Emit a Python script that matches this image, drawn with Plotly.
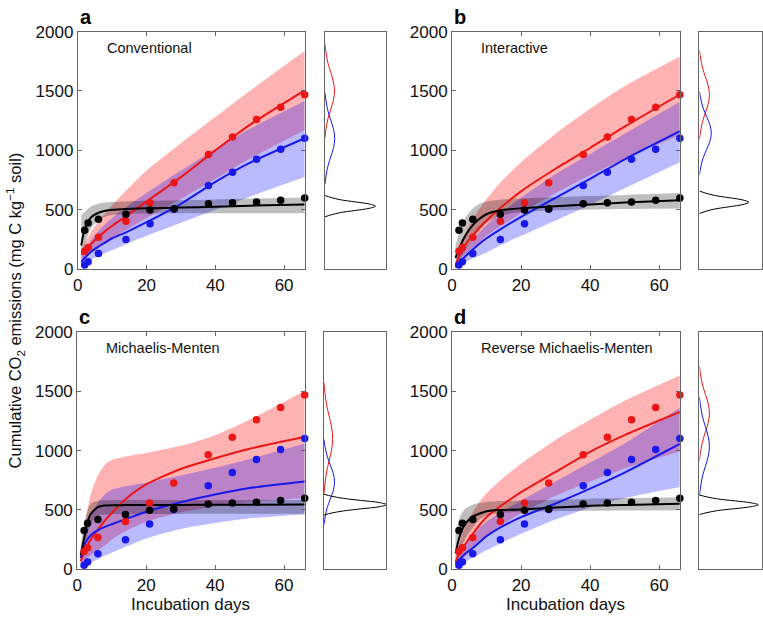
import plotly.graph_objects as go

W, H = 763, 623

# ---------------- observations (same in all panels) ----------------
obs_days = [2, 3, 6, 14, 21, 28, 38, 45, 52, 59, 66]
obs_black = [327, 389, 419, 463, 498, 509, 550, 558, 566, 580, 599]
obs_red = [150, 182, 269, 403, 558, 727, 966, 1113, 1260, 1363, 1469]
obs_blue = [35, 63, 131, 250, 381, 505, 705, 816, 925, 1010, 1102]

# ---------------- model fits (mean, lower, upper) ----------------
model_days = [1, 2, 3, 4, 6, 8, 10, 14, 20, 30, 40, 50, 66]

# a: Conventional
a_black_mid = [200, 340, 400, 440, 475, 492, 500, 507, 512, 518, 526, 534, 544]
a_black_lo = [100, 200, 290, 350, 410, 440, 455, 465, 468, 470, 470, 470, 470]
a_black_hi = [450, 480, 510, 530, 550, 560, 565, 570, 575, 580, 587, 594, 604]
a_red_mid = [120, 150, 185, 215, 270, 320, 365, 445, 570, 775, 1000, 1215, 1505]
a_red_lo = [50, 80, 110, 135, 180, 220, 260, 330, 430, 590, 760, 930, 1170]
a_red_hi = [160, 220, 270, 320, 400, 470, 540, 660, 830, 1060, 1280, 1500, 1837]
a_blue_mid = [60, 95, 125, 150, 190, 225, 260, 310, 395, 550, 735, 895, 1102]
a_blue_lo = [30, 50, 65, 80, 110, 135, 160, 210, 280, 390, 500, 610, 775]
a_blue_hi = [100, 160, 210, 250, 320, 380, 430, 520, 640, 830, 1010, 1180, 1415]

# b: Interactive
b_black_mid = [95, 170, 235, 290, 370, 425, 462, 495, 512, 530, 545, 560, 580]
b_black_lo = [20, 70, 120, 170, 250, 330, 390, 450, 480, 495, 502, 507, 510]
b_black_hi = [200, 300, 380, 440, 510, 550, 570, 585, 595, 605, 615, 625, 640]
b_red_mid = [30, 110, 165, 210, 285, 350, 410, 515, 655, 845, 1020, 1200, 1470]
b_red_lo = [10, 60, 100, 130, 180, 230, 280, 360, 470, 640, 790, 930, 1130]
b_red_hi = [50, 170, 250, 310, 420, 510, 590, 730, 900, 1140, 1350, 1540, 1790]
b_blue_mid = [15, 50, 82, 112, 165, 215, 260, 335, 440, 600, 760, 925, 1162]
b_blue_lo = [5, 25, 45, 60, 90, 115, 140, 200, 280, 410, 540, 680, 900]
b_blue_hi = [30, 90, 140, 180, 250, 310, 370, 470, 600, 800, 970, 1140, 1410]

# c: Michaelis-Menten
c_black_mid = [120, 260, 400, 470, 525, 537, 540, 541, 542, 543, 544, 545, 547]
c_black_lo = [60, 160, 300, 390, 450, 462, 465, 466, 467, 467, 468, 468, 468]
c_black_hi = [200, 380, 500, 555, 578, 582, 583, 584, 584, 585, 585, 585, 585]
c_red_mid = [70, 140, 205, 255, 335, 410, 475, 590, 715, 845, 935, 1015, 1116]
c_red_lo = [40, 70, 100, 120, 160, 200, 250, 320, 400, 480, 530, 565, 600]
c_red_hi = [150, 330, 500, 640, 790, 880, 920, 950, 980, 1040, 1130, 1260, 1505]
c_blue_mid = [95, 200, 255, 290, 330, 358, 380, 422, 485, 565, 630, 685, 740]
c_blue_lo = [10, 25, 40, 55, 85, 115, 140, 190, 260, 340, 390, 430, 463]
c_blue_hi = [120, 260, 380, 450, 560, 630, 670, 700, 730, 790, 855, 930, 1060]

# d: Reverse Michaelis-Menten
d_black_mid = [136, 258, 340, 390, 445, 470, 490, 500, 505, 520, 535, 543, 552]
d_black_lo = [60, 130, 200, 270, 350, 420, 455, 475, 485, 490, 493, 496, 498]
d_black_hi = [300, 420, 480, 515, 545, 560, 568, 575, 580, 587, 595, 600, 607]
d_red_mid = [60, 125, 177, 220, 300, 375, 440, 531, 650, 820, 990, 1130, 1325]
d_red_lo = [20, 55, 90, 115, 170, 230, 290, 370, 470, 620, 740, 850, 993]
d_red_hi = [100, 210, 300, 370, 480, 570, 640, 750, 890, 1090, 1260, 1420, 1633]
d_blue_mid = [46, 80, 109, 135, 180, 230, 280, 354, 440, 555, 680, 815, 1056]
d_blue_lo = [10, 30, 50, 65, 100, 130, 160, 220, 300, 420, 520, 600, 694]
d_blue_hi = [60, 110, 160, 210, 290, 350, 400, 480, 580, 740, 900, 1060, 1360]

# ---------------- side densities (y level, relative density) ----------------
a_red_dy = [1105, 1184, 1263, 1342, 1421, 1500, 1579, 1658, 1737, 1816, 1895]
a_red_dx = [0, .020, .048, .094, .137, .156, .137, .094, .048, .020, 0]
a_blue_dy = [715, 792, 869, 946, 1023, 1100, 1177, 1254, 1331, 1408, 1485]
a_blue_dx = [0, .021, .050, .096, .141, .160, .141, .096, .050, .021, 0]
a_black_dy = [440, 458, 476, 494, 512, 530, 548, 566, 584, 602, 620]
a_black_dx = [0, .107, .254, .492, .722, .820, .722, .492, .254, .107, 0]

b_red_dy = [1093, 1168, 1243, 1318, 1393, 1468, 1543, 1618, 1693, 1768, 1843]
b_red_dx = [0, .021, .050, .096, .141, .160, .141, .096, .050, .021, 0]
b_blue_dy = [796, 866, 936, 1006, 1076, 1146, 1216, 1286, 1356, 1426, 1496]
b_blue_dx = [0, .025, .059, .114, .167, .190, .167, .114, .059, .025, 0]
b_black_dy = [468, 487, 506, 525, 544, 563, 582, 601, 620, 639, 658]
b_black_dx = [0, .103, .245, .474, .695, .790, .695, .474, .245, .103, 0]

c_red_dy = [633, 727, 821, 915, 1009, 1103, 1197, 1291, 1385, 1479, 1573]
c_red_dx = [0, .018, .043, .084, .123, .140, .123, .084, .043, .018, 0]
c_blue_dy = [376, 448, 520, 592, 664, 736, 808, 880, 952, 1024, 1096]
c_blue_dx = [0, .022, .053, .102, .150, .170, .150, .102, .053, .022, 0]
c_black_dy = [457, 475, 492, 510, 527, 545, 563, 580, 598, 615, 633]
c_black_dx = [0, .130, .310, .600, .880, 1.0, .880, .600, .310, .130, 0]

d_red_dy = [920, 999, 1078, 1157, 1236, 1315, 1394, 1473, 1552, 1631, 1710]
d_red_dx = [0, .021, .050, .096, .141, .160, .141, .096, .050, .021, 0]
d_blue_dy = [620, 703, 786, 869, 952, 1035, 1118, 1201, 1284, 1367, 1450]
d_blue_dx = [0, .021, .050, .096, .141, .160, .141, .096, .050, .021, 0]
d_black_dy = [462, 478, 495, 511, 528, 544, 560, 577, 593, 610, 626]
d_black_dx = [0, .122, .291, .564, .827, .940, .827, .564, .291, .122, 0]

panel_letters = ["a", "b", "c", "d"]
panel_names = ["Conventional", "Interactive", "Michaelis-Menten", "Reverse Michaelis-Menten"]
x_ticks = [0, 20, 40, 60]
y_ticks = [0, 500, 1000, 1500, 2000]

# ---------------- styling ----------------
FONT = "Arial, Liberation Sans, Helvetica, sans-serif"
RED = "rgb(235,22,22)"
BLUE = "rgb(25,25,235)"
BLACK = "rgb(0,0,0)"
RED_F = "rgba(255,0,0,0.30)"
BLUE_F = "rgba(0,0,255,0.27)"
GRAY_F = "rgba(0,0,0,0.25)"
AXC = "#666666"
TXT = "#111111"

panels = [
    dict(black=(a_black_mid, a_black_lo, a_black_hi), red=(a_red_mid, a_red_lo, a_red_hi),
         blue=(a_blue_mid, a_blue_lo, a_blue_hi),
         dens=[(a_red_dx, a_red_dy, RED), (a_blue_dx, a_blue_dy, BLUE), (a_black_dx, a_black_dy, BLACK)]),
    dict(black=(b_black_mid, b_black_lo, b_black_hi), red=(b_red_mid, b_red_lo, b_red_hi),
         blue=(b_blue_mid, b_blue_lo, b_blue_hi),
         dens=[(b_red_dx, b_red_dy, RED), (b_blue_dx, b_blue_dy, BLUE), (b_black_dx, b_black_dy, BLACK)]),
    dict(black=(c_black_mid, c_black_lo, c_black_hi), red=(c_red_mid, c_red_lo, c_red_hi),
         blue=(c_blue_mid, c_blue_lo, c_blue_hi),
         dens=[(c_red_dx, c_red_dy, RED), (c_blue_dx, c_blue_dy, BLUE), (c_black_dx, c_black_dy, BLACK)]),
    dict(black=(d_black_mid, d_black_lo, d_black_hi), red=(d_red_mid, d_red_lo, d_red_hi),
         blue=(d_blue_mid, d_blue_lo, d_blue_hi),
         dens=[(d_red_dx, d_red_dy, RED), (d_blue_dx, d_blue_dy, BLUE), (d_black_dx, d_black_dy, BLACK)]),
]

# pixel geometry (left, right) for main and side boxes, (top, bottom) per row
main_x = [(73.3, 301.7), (450.0, 679.3), (72.7, 301.7), (450.0, 679.3)]
side_x = [(322.0, 384.0), (699.0, 762.0), (321.0, 384.0), (699.0, 762.0)]
row_y = [(23.3, 268.3), (23.3, 268.3), (333.0, 578.0), (333.0, 578.0)]


def px(x):
    return x / W


def py(y):
    return 1 - y / H


fig = go.Figure()
layout = dict(
    width=W, height=H, margin=dict(l=0, r=0, t=0, b=0),
    paper_bgcolor="white", plot_bgcolor="white", showlegend=False,
    font=dict(family=FONT, size=17, color=TXT),
)
annotations = []

for i, p in enumerate(panels):
    mi = 2 * i + 1
    si = 2 * i + 2
    mx = "x" if mi == 1 else f"x{mi}"
    my = "y" if mi == 1 else f"y{mi}"
    sx, sy = f"x{si}", f"y{si}"

    # bands
    for key, fcol in (("red", RED_F), ("blue", BLUE_F), ("black", GRAY_F)):
        mid, lo, hi = p[key]
        fig.add_trace(go.Scatter(x=model_days, y=lo, mode="lines",
                                 line=dict(width=0, shape="spline", smoothing=0.7),
                                 xaxis=mx, yaxis=my, hoverinfo="skip"))
        fig.add_trace(go.Scatter(x=model_days, y=hi, mode="lines",
                                 line=dict(width=0, shape="spline", smoothing=0.7),
                                 fill="tonexty", fillcolor=fcol, xaxis=mx, yaxis=my, hoverinfo="skip"))
    # fitted lines
    for key, col in (("red", RED), ("blue", BLUE), ("black", BLACK)):
        mid = p[key][0]
        fig.add_trace(go.Scatter(x=model_days, y=mid, mode="lines",
                                 line=dict(color=col, width=2, shape="spline", smoothing=0.6),
                                 xaxis=mx, yaxis=my))
    # observations
    for obs, col in ((obs_red, RED), (obs_blue, BLUE), (obs_black, BLACK)):
        fig.add_trace(go.Scatter(x=obs_days, y=obs, mode="markers",
                                 marker=dict(color=col, size=7.5, line=dict(width=0)),
                                 cliponaxis=False, xaxis=mx, yaxis=my))
    # side densities
    for dx, dy, col in p["dens"]:
        fig.add_trace(go.Scatter(x=dx, y=dy, mode="lines",
                                 line=dict(color=col, width=1, shape="spline"),
                                 xaxis=sx, yaxis=sy))

    l, r = main_x[i]
    t, b = row_y[i]
    sl, sr = side_x[i]
    axkey_mx = "xaxis" if mi == 1 else f"xaxis{mi}"
    axkey_my = "yaxis" if mi == 1 else f"yaxis{mi}"
    layout[axkey_mx] = dict(domain=[px(l), px(r)], anchor=my, range=[0, 66],
                            tickvals=x_ticks, ticks="inside", ticklen=4, tickcolor=AXC,
                            showline=True, linecolor=AXC, linewidth=1, mirror="ticks",
                            showgrid=False, zeroline=False,
                            tickfont=dict(family=FONT, size=17, color=TXT))
    layout[axkey_my] = dict(domain=[py(b), py(t)], anchor=mx, range=[0, 2000],
                            tickvals=y_ticks, ticks="inside", ticklen=4, tickcolor=AXC,
                            showline=True, linecolor=AXC, linewidth=1, mirror="ticks",
                            showgrid=False, zeroline=False,
                            tickfont=dict(family=FONT, size=17, color=TXT))
    layout[f"xaxis{si}"] = dict(domain=[px(sl), px(sr)], anchor=sy, range=[0, 1.0],
                                showticklabels=False, ticks="", showline=True, linecolor=AXC,
                                linewidth=1, mirror=True, showgrid=False, zeroline=False)
    layout[f"yaxis{si}"] = dict(domain=[py(b), py(t)], anchor=sx, range=[0, 2000],
                                showticklabels=False, ticks="", showline=True, linecolor=AXC,
                                linewidth=1, mirror=True, showgrid=False, zeroline=False)

    # panel letter
    annotations.append(dict(text=f"<b>{panel_letters[i]}</b>", x=px(l), y=py(t - 15),
                            xref="paper", yref="paper", xanchor="left", yanchor="middle",
                            showarrow=False, font=dict(family=FONT, size=20, color="black")))
    # model name
    annotations.append(dict(text=panel_names[i], x=px(l + 27), y=py(t + 17),
                            xref="paper", yref="paper", xanchor="left", yanchor="middle",
                            showarrow=False, font=dict(family=FONT, size=14.5, color=TXT)))

# axis titles
for l, r in (main_x[2], main_x[3]):
    annotations.append(dict(text="Incubation days", x=px((l + r) / 2), y=py(614),
                            xref="paper", yref="paper", xanchor="center", yanchor="middle",
                            showarrow=False, font=dict(family=FONT, size=17, color=TXT)))
annotations.append(dict(text="Cumulative CO<sub>2</sub> emissions (mg C kg<sup>\u22121</sup> soil)",
                        x=px(10), y=py(311), xref="paper", yref="paper",
                        xanchor="center", yanchor="middle", textangle=-90, showarrow=False,
                        font=dict(family=FONT, size=16.5, color=TXT)))

layout["annotations"] = annotations
fig.update_layout(**layout)
fig.write_html("out.html", config={"displayModeBar": False},
               post_script="document.body.style.margin='0';document.body.style.overflow='hidden';")
